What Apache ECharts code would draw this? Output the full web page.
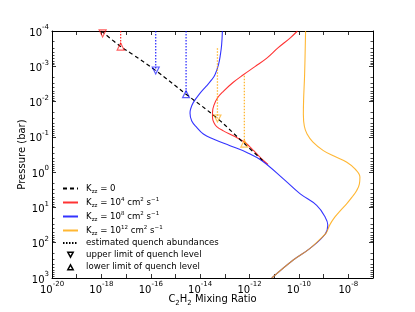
<!DOCTYPE html>
<html><head><meta charset="utf-8">
<script src="https://cdn.jsdelivr.net/npm/echarts@6/dist/echarts.min.js"></script>
<style>html,body{margin:0;padding:0;background:#fff}#c{width:415px;height:312px}</style>
</head><body><div id="c"></div>
<script>
// tick label exponents
const xTickExps = [-20, -18, -16, -14, -12, -10, -8];
const yTickExps = [-4, -3, -2, -1, 0, 1, 2, 3];
// curves: [log10 C2H2 mixing ratio, log10 pressure (bar)]
const kzz0 = [[-18.0,-4.0],[-17.22,-3.56],[-16.72,-3.33],[-15.80,-2.88],[-14.57,-2.21],[-13.30,-1.52],[-12.21,-0.81],[-11.45,-0.32]];
const kzz4 = [[-10.06,-4.0],[-10.36,-3.80],[-10.85,-3.52],[-11.30,-3.23],[-11.78,-2.99],[-12.25,-2.76],[-12.67,-2.54],[-13.06,-2.29],[-13.30,-2.10],[-13.44,-1.90],[-13.50,-1.70],[-13.50,-1.55],[-13.44,-1.40],[-13.33,-1.29],[-13.06,-1.17],[-12.66,-1.03],[-12.18,-0.84],[-11.82,-0.60],[-11.44,-0.33],[-11.25,-0.22]];
const kzz8 = [[-13.10,-4.0],[-13.13,-3.61],[-13.18,-3.33],[-13.26,-3.04],[-13.40,-2.76],[-13.53,-2.62],[-13.76,-2.43],[-14.01,-2.23],[-14.28,-1.97],[-14.39,-1.78],[-14.41,-1.67],[-14.34,-1.45],[-14.14,-1.27],[-13.87,-1.08],[-13.47,-0.94],[-12.79,-0.75],[-12.11,-0.56],[-11.51,-0.33],[-10.63,0.19],[-9.96,0.61],[-9.28,0.94],[-8.94,1.27],[-8.83,1.50],[-8.94,1.76],[-9.55,2.16],[-10.23,2.49],[-11.10,3.0]];
const kzz12 = [[-9.73,-4.0],[-9.77,-2.76],[-9.81,-2.06],[-9.82,-1.64],[-9.78,-1.30],[-9.67,-1.08],[-9.43,-0.85],[-9.01,-0.61],[-8.54,-0.44],[-8.06,-0.28],[-7.73,-0.09],[-7.53,0.14],[-7.55,0.33],[-7.66,0.52],[-7.85,0.71],[-8.06,0.89],[-8.32,1.09],[-8.54,1.27],[-8.74,1.48],[-8.87,1.69],[-8.94,1.76],[-9.55,2.16],[-10.23,2.49],[-11.10,3.0]];
// quench estimates: [log10 mixing ratio, log10 top of dotted line, log10 pressure of marker]
const quenchRedUpper = [-17.95, -4.0, -3.93];
const quenchRedLower = [-17.22, -4.0, -3.56];
const quenchBlueUpper = [-15.80, -4.0, -2.88];
const quenchBlueLower = [-14.57, -4.0, -2.21];
const quenchOrangeUpper = [-13.30, -3.51, -1.52];
const quenchOrangeLower = [-12.21, -2.735, -0.81];

const P = a => a.map(d => [Math.pow(10, d[0]), Math.pow(10, d[1])]);
const FONT = 'DejaVu Sans';
const RED = 'rgba(255,0,0,0.8)', BLUE = 'rgba(0,0,255,0.8)', ORANGE = 'rgba(255,165,0,0.8)';
const DOWN = 'path://M0,0L10,0L5,9Z';
const UP = 'path://M5,0L10,9L0,9Z';
const DOWN_L = 'path://M-3,-4M0,0L10,0L5,9ZM13,13';
const UP_L = 'path://M-3,-4M5,0L10,9L0,9ZM13,13';

// log minor tick positions (2..9 per decade)
const yMinor = [];
for (let k = -4; k < 3; k++) for (let m = 2; m <= 9; m++) yMinor.push(m * Math.pow(10, k));

const tickRich = {
  b: {fontSize: 10, fontFamily: FONT, color: '#000', lineHeight: 14, verticalAlign: 'bottom'},
  s: {fontSize: 7, fontFamily: FONT, color: '#000', lineHeight: 7, verticalAlign: 'top'}
};
const txtRich = {
  n: {fontSize: 8.6, fontFamily: FONT, color: '#000', lineHeight: 12, verticalAlign: 'middle'},
  p: {fontSize: 5.5, fontFamily: FONT, color: '#000', lineHeight: 6, verticalAlign: 'top'},
  d: {fontSize: 5.5, fontFamily: FONT, color: '#000', lineHeight: 6, verticalAlign: 'bottom'},
  N: {fontSize: 10, fontFamily: FONT, color: '#000', lineHeight: 13, verticalAlign: 'top'},
  D: {fontSize: 7, fontFamily: FONT, color: '#000', lineHeight: 7, verticalAlign: 'bottom'}
};
const expFmt = (list) => v => {
  const e = Math.round(Math.log10(v));
  return list.includes(e) ? '{b|10}{s|' + e + '}' : '';
};
const legendText = {
  k0: '{n|K}{d|zz}{n| = 0}',
  k4: '{n|K}{d|zz}{n| = 10}{p|4}{n| cm}{p|2}{n| s}{p|\u22121}',
  k8: '{n|K}{d|zz}{n| = 10}{p|8}{n| cm}{p|2}{n| s}{p|\u22121}',
  k12: '{n|K}{d|zz}{n| = 10}{p|12}{n| cm}{p|2}{n| s}{p|\u22121}',
  quench: '{n|estimated quench abundances}',
  upper: '{n|upper limit of quench level}',
  lower: '{n|lower limit of quench level}'
};

const axisCommon = {
  axisLine: {show: true, lineStyle: {color: '#000', width: 1}},
  axisTick: {show: true, inside: true, length: 4, lineStyle: {color: '#000', width: 0.8}},
  splitLine: {show: false}
};
function xAx(pos, showLabel) {
  return Object.assign({
    type: 'log', logBase: 10, min: 1e-20, max: 1e-7, interval: 1, position: pos,
    axisLabel: {show: showLabel, formatter: expFmt(xTickExps), rich: tickRich, margin: 3, showMinLabel: true, showMaxLabel: true, hideOverlap: false},
    name: showLabel ? '{N|C}{D|2}{N|H}{D|2}{N| Mixing Ratio}' : '',
    nameLocation: 'middle', nameGap: 16, nameMoveOverlap: false,
    nameTextStyle: {rich: txtRich}
  }, axisCommon);
}
function yAx(pos, showLabel) {
  return Object.assign({
    type: 'log', logBase: 10, min: 1e-4, max: 1e3, interval: 1, inverse: true, position: pos,
    axisLabel: {show: showLabel, formatter: expFmt(yTickExps), rich: tickRich, margin: 3, showMinLabel: true, showMaxLabel: true, hideOverlap: false},
    name: showLabel ? 'Pressure (bar)' : '',
    nameLocation: 'middle', nameGap: 25, nameRotate: 90, nameMoveOverlap: false,
    nameTextStyle: {fontSize: 10, fontFamily: FONT, color: '#000'}
  }, axisCommon);
}
function yMinorAx(pos) {
  return {
    type: 'log', logBase: 10, min: 1e-4, max: 1e3, inverse: true, position: pos, offset: 0,
    axisLine: {show: false}, axisLabel: {show: false}, splitLine: {show: false},
    axisTick: {show: true, inside: true, length: 2.5, customValues: yMinor, lineStyle: {color: '#000', width: 0.7}}
  };
}

function lineSeries(name, data, color, type, z) {
  return {name, type: 'line', data: P(data), showSymbol: false, symbol: 'none', smooth: 0.4,
    lineStyle: {color, width: type === 'solid' ? 1.1 : 1.2, type}, itemStyle: {color}, z, silent: true, animation: false};
}
function dotted(q, color) {
  return {type: 'line', data: P([[q[0], q[1]], [q[0], q[2]]]), showSymbol: false, symbol: 'none',
    lineStyle: {color, width: 1.3, type: [1.5, 1.5]}, z: 3, silent: true, animation: false};
}
function tri(up, low, color) {
  return {type: 'scatter', symbolSize: 7, z: 6, animation: false, silent: true,
    itemStyle: {color: 'rgba(255,255,255,0)', borderColor: color, borderWidth: 1.2},
    data: [{value: P([[up[0], up[2]]])[0], symbol: DOWN}, {value: P([[low[0], low[2]]])[0], symbol: UP}]};
}

const series = [
  lineSeries('k0', kzz0, '#000', [4, 3], 5),
  lineSeries('k4', kzz4, RED, 'solid', 2),
  lineSeries('k8', kzz8, BLUE, 'solid', 3),
  lineSeries('k12', kzz12, ORANGE, 'solid', 4),
  {name: 'quench', type: 'line', data: [], symbol: 'none', lineStyle: {color: '#000', width: 1.3, type: [1.5, 1.5]}, itemStyle: {color: '#000'}},
  {name: 'upper', type: 'scatter', data: [], symbol: DOWN, itemStyle: {color: '#fff', borderColor: '#000', borderWidth: 1.5}},
  {name: 'lower', type: 'scatter', data: [], symbol: UP, itemStyle: {color: '#fff', borderColor: '#000', borderWidth: 1.5}},
  dotted(quenchRedUpper, RED), dotted(quenchRedLower, RED),
  dotted(quenchBlueUpper, BLUE), dotted(quenchBlueLower, BLUE),
  dotted(quenchOrangeUpper, ORANGE), dotted(quenchOrangeLower, ORANGE),
  tri(quenchRedUpper, quenchRedLower, RED),
  tri(quenchBlueUpper, quenchBlueLower, BLUE),
  tri(quenchOrangeUpper, quenchOrangeLower, ORANGE)
];

const hideSym = {color: 'rgba(0,0,0,0)', borderWidth: 0, opacity: 0};
const triSym = {color: '#fff', borderColor: '#000', borderWidth: 1.5, opacity: 1};
const chart = echarts.init(document.getElementById('c'), null, {renderer: 'canvas'});
chart.setOption({
  backgroundColor: '#fff',
  animation: false,
  grid: {left: 52, right: 42, top: 31, bottom: 32, containLabel: false},
  xAxis: [xAx('bottom', true), xAx('top', false)],
  yAxis: [yAx('left', true), yAx('right', false), yMinorAx('left'), yMinorAx('right')],
  legend: {
    orient: 'vertical', left: 57, top: 179, itemWidth: 15, itemHeight: 9, itemGap: 2,
    data: [
      {name: 'k0', itemStyle: hideSym}, {name: 'k4', itemStyle: hideSym}, {name: 'k8', itemStyle: hideSym},
      {name: 'k12', itemStyle: hideSym}, {name: 'quench', itemStyle: hideSym},
      {name: 'upper', icon: DOWN_L, itemStyle: triSym}, {name: 'lower', icon: UP_L, itemStyle: triSym}
    ],
    formatter: n => legendText[n],
    textStyle: {rich: txtRich, padding: [0, 0, 0, 3]},
    selectedMode: false
  },
  series
});
</script></body></html>
